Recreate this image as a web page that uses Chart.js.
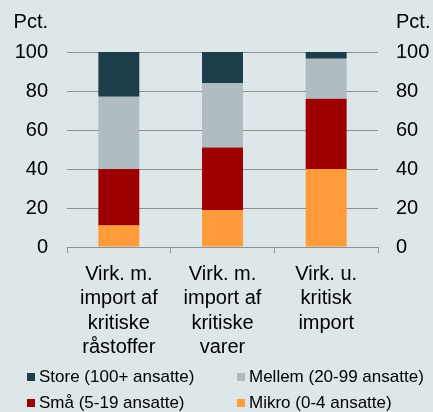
<!DOCTYPE html>
<html>
<head>
<meta charset="utf-8">
<script src="https://cdn.jsdelivr.net/npm/chart.js@4/dist/chart.umd.min.js"></script>
<style>
  html, body { margin: 0; padding: 0; background: #dde6e9; }
  #wrap { position: relative; width: 433px; height: 412px; font-family: "Liberation Sans", Arial, sans-serif; }
  #chart { position: absolute; left: 0; top: 0; }
  .lg { position: absolute; font-size: 17px; line-height: 20px; color: #000; white-space: nowrap; }
  .lg i { position: absolute; left: -12px; top: 6px; width: 8px; height: 8px; }
</style>
</head>
<body>
<div id="wrap">
  <canvas id="chart" width="433" height="412"></canvas>
  <div id="legend"></div>
</div>
<script>
/* ===== Virksomhedsstørrelse fordelt på importtype ===== */
const categories = [
  ["Virk. m.", "import af", "kritiske", "råstoffer"],
  ["Virk. m.", "import af", "kritiske", "varer"],
  ["Virk. u.", "kritisk", "import"],
];
const mikro = [11, 19, 40];
const smaa = [29, 32, 36];
const mellem = [37, 33, 20.5];
const store = [23, 16, 3.5];
const yTicks = [0, 20, 40, 60, 80, 100];

const font = { family: "'Liberation Sans', Arial, sans-serif", size: 20 };
const axisGrey = "#8c9194";

const series = [
  { label: "Mikro (0-4 ansatte)", data: mikro, color: "#ff9b38" },
  { label: "Små (5-19 ansatte)", data: smaa, color: "#9c0000" },
  { label: "Mellem (20-99 ansatte)", data: mellem, color: "#b1bcc2" },
  { label: "Store (100+ ansatte)", data: store, color: "#1d3f4b" },
];

// "Pct." over both value axes
const pctTitles = {
  id: "pctTitles",
  afterDraw(chart) {
    const { ctx, scales } = chart;
    ctx.save();
    ctx.font = `${font.size}px ${font.family}`;
    ctx.fillStyle = "#000";
    ctx.textBaseline = "middle";
    ctx.textAlign = "right";
    ctx.fillText("Pct.", scales.y.right - 19, 22);
    ctx.textAlign = "left";
    ctx.fillText("Pct.", scales.y2.left + 18, 22);
    ctx.restore();
  },
};

const yScale = (position, padding, width, showGrid) => ({
  position,
  stacked: true,
  min: 0,
  max: 100,
  afterBuildTicks: (s) => { s.ticks = yTicks.map(v => ({ value: v })); },
  afterFit: (s) => { s.width = width; },
  border: { display: false },
  grid: { display: showGrid, drawTicks: false, color: axisGrey, lineWidth: 1 },
  ticks: { font, color: "#000", padding },
});

new Chart(document.getElementById("chart"), {
  type: "bar",
  data: {
    labels: categories,
    datasets: series.map(s => ({
      label: s.label,
      data: s.data,
      backgroundColor: s.color,
      borderWidth: 0,
      categoryPercentage: 1,
      barPercentage: 0.395,
      yAxisID: "y",
    })),
  },
  options: {
    responsive: false,
    animation: false,
    layout: { padding: { top: 52, left: 0, right: 0, bottom: 0 } },
    plugins: { legend: { display: false }, tooltip: { enabled: false } },
    scales: {
      x: {
        stacked: true,
        afterFit: (s) => { s.height = 412 - 247; },
        border: { color: axisGrey, width: 1 },
        grid: { offset: true, drawOnChartArea: false, drawTicks: true, tickLength: 6, color: axisGrey },
        ticks: { font: { ...font, lineHeight: 1.22 }, color: "#000", padding: 9, maxRotation: 0 },
      },
      y: yScale("left", 19, 67, true),
      y2: yScale("right", 18, 55, false),
    },
  },
  plugins: [pctTitles],
});

// legend in two columns: Store, Mellem / Små, Mikro
const legendOrder = [3, 2, 1, 0];
const legendPos = [[39, 367], [249, 367], [39, 393], [249, 393]];
document.getElementById("legend").innerHTML = legendOrder.map((idx, i) => {
  const s = series[idx];
  const [x, y] = legendPos[i];
  return `<div class="lg" style="left:${x}px;top:${y}px"><i style="background:${s.color}"></i>${s.label}</div>`;
}).join("");
</script>
</body>
</html>
